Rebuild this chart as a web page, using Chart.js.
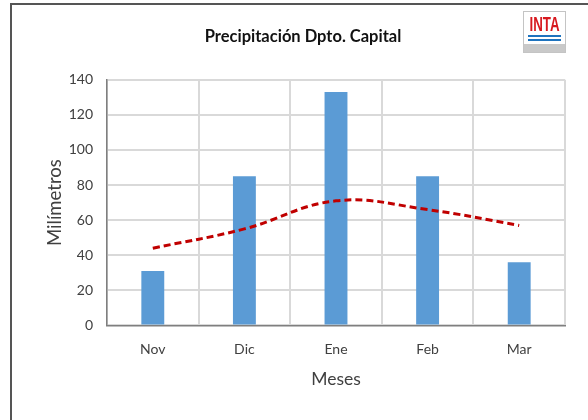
<!DOCTYPE html>
<html>
<head>
<meta charset="utf-8">
<script src="https://cdn.jsdelivr.net/npm/chart.js@4"></script>
<style>
  html, body { margin: 0; padding: 0; background: #fff; }
  #wrap { width: 588px; height: 420px; position: relative; }
</style>
</head>
<body>
<div id="wrap"><canvas id="grafico" width="588" height="420"></canvas></div>
<script>
const meses = ["Nov", "Dic", "Ene", "Feb", "Mar"];
const lluvia = [31, 85, 133, 85, 36];
const promedio = [44, 55, 71, 66, 57];
const ticksY = [0, 20, 40, 60, 80, 100, 120, 140];

const fuente = "Lato, 'Open Sans', sans-serif";

// marco del informe y logo INTA
const marco = {
    id: "marco",
    afterDraw(chart) {
        const ctx = chart.ctx;
        ctx.save();
        ctx.strokeStyle = "#555";
        ctx.lineWidth = 2;
        ctx.beginPath();
        ctx.moveTo(600, 4);
        ctx.lineTo(11, 4);
        ctx.lineTo(11, 430);
        ctx.stroke();

        // logo
        ctx.fillStyle = "#fff";
        ctx.fillRect(523, 11, 43, 42);
        ctx.fillStyle = "#c9c9c9";
        ctx.fillRect(523, 44, 43, 9);
        ctx.strokeStyle = "#c4c4c4";
        ctx.lineWidth = 1;
        ctx.strokeRect(523.5, 11.5, 42, 41);
        ctx.fillStyle = "#1e73be";
        ctx.fillRect(528, 35, 33, 2);
        ctx.fillRect(528, 39, 33, 2);
        ctx.fillStyle = "#d7191f";
        ctx.font = "bold 18px 'Liberation Sans', sans-serif";
        ctx.textAlign = "center";
        ctx.textBaseline = "alphabetic";
        ctx.translate(544.5, 30.5);
        ctx.scale(0.74, 1.15);
        ctx.fillText("INTA", 0, 0);
        ctx.restore();
    }
};

new Chart(document.getElementById("grafico"), {
    data: {
        labels: meses,
        datasets: [{
            type: "line",
            data: promedio,
            borderColor: "#c00000",
            borderWidth: 3,
            borderDash: [7, 4],
            pointRadius: 0,
            tension: 0.4,
            fill: false,
            order: 0
        }, {
            type: "bar",
            data: lluvia,
            backgroundColor: "#5b9bd5",
            categoryPercentage: 1,
            barPercentage: 0.25,
            order: 1
        }]
    },
    options: {
        responsive: false,
        animation: false,
        layout: { padding: { left: 41, right: 23, top: 17, bottom: 26 } },
        plugins: {
            legend: { display: false },
            tooltip: { enabled: false },
            title: {
                display: true,
                text: "Precipitación Dpto. Capital",
                color: "#111",
                font: { family: fuente, size: 16.5, weight: "bold" },
                padding: { top: 10, bottom: 33 }
            }
        },
        scales: {
            x: {
                grid: { color: "#d9d9d9", lineWidth: 2, drawTicks: false, offset: true },
                border: { color: "#7f7f7f", width: 1.5 },
                ticks: { color: "#404040", font: { family: fuente, size: 14 }, padding: 16 },
                title: {
                    display: true,
                    text: "Meses",
                    color: "#404040",
                    font: { family: fuente, size: 17.5 },
                    padding: { top: 4, bottom: 4 }
                },
                afterFit(s) { s.height = 68.6; }
            },
            y: {
                min: 0,
                max: 140,
                afterBuildTicks(s) { s.ticks = ticksY.map(v => ({ value: v })); },
                grid: { color: "#d9d9d9", lineWidth: 2, drawTicks: false },
                border: { color: "#7f7f7f", width: 1.5 },
                ticks: { color: "#404040", font: { family: fuente, size: 14 }, padding: 14 },
                title: {
                    display: true,
                    text: "Milímetros",
                    color: "#404040",
                    font: { family: fuente, size: 18.5 },
                    padding: { top: 3, bottom: 4 }
                },
                afterFit(s) { s.width = 66; }
            }
        }
    },
    plugins: [marco]
});
</script>
</body>
</html>
